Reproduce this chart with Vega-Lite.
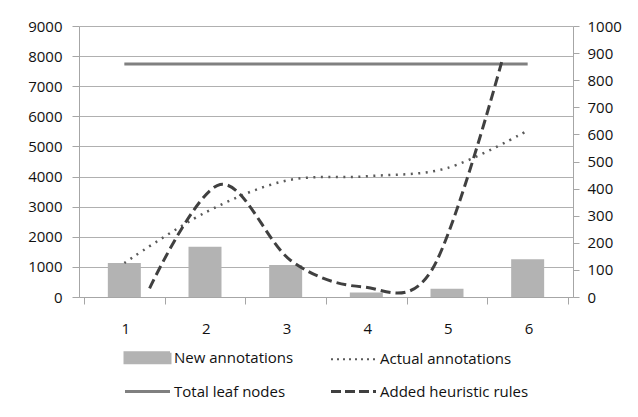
{
  "$schema": "https://vega.github.io/schema/vega-lite/v6.json",
  "width": 494,
  "height": 271,
  "autosize": {"type": "none"},
  "padding": {"left": 79, "top": 26, "right": 65, "bottom": 120},
  "background": "white",
  "config": {
    "font": "Open Sans",
    "view": {"stroke": null},
    "axis": {
      "labelFont": "Open Sans",
      "labelFontSize": 15,
      "labelColor": "#111111",
      "domainColor": "#a6a6a6",
      "tickColor": "#a6a6a6",
      "gridColor": "#b0b0b0",
      "title": null
    },
    "legend": {"labelFont": "Open Sans", "labelFontSize": 15, "labelColor": "#111111"}
  },
  "data": {
    "values": [
      {"run": 1, "series": "New annotations", "value": 1130},
      {"run": 2, "series": "New annotations", "value": 1670},
      {"run": 3, "series": "New annotations", "value": 1060},
      {"run": 4, "series": "New annotations", "value": 150},
      {"run": 5, "series": "New annotations", "value": 270},
      {"run": 6, "series": "New annotations", "value": 1250},
      {"run": 1, "series": "Actual annotations", "value": 1130},
      {"run": 2, "series": "Actual annotations", "value": 2800},
      {"run": 3, "series": "Actual annotations", "value": 3860},
      {"run": 4, "series": "Actual annotations", "value": 4010},
      {"run": 5, "series": "Actual annotations", "value": 4280},
      {"run": 6, "series": "Actual annotations", "value": 5530},
      {"run": 1, "series": "Total leaf nodes", "value": 7740},
      {"run": 2, "series": "Total leaf nodes", "value": 7740},
      {"run": 3, "series": "Total leaf nodes", "value": 7740},
      {"run": 4, "series": "Total leaf nodes", "value": 7740},
      {"run": 5, "series": "Total leaf nodes", "value": 7740},
      {"run": 6, "series": "Total leaf nodes", "value": 7740},
      {"run": 1, "series": "Added heuristic rules", "value": 32},
      {"run": 2, "series": "Added heuristic rules", "value": 415},
      {"run": 3, "series": "Added heuristic rules", "value": 135},
      {"run": 4, "series": "Added heuristic rules", "value": 38},
      {"run": 5, "series": "Added heuristic rules", "value": 100},
      {"run": 6, "series": "Added heuristic rules", "value": 877}
    ]
  },
  "encoding": {
    "color": {
      "field": "series",
      "type": "nominal",
      "scale": {
        "domain": ["New annotations", "Actual annotations", "Total leaf nodes", "Added heuristic rules"],
        "range": ["#b3b3b3", "#5a5a5a", "#808080", "#404040"]
      },
      "legend": {
        "title": null,
        "orient": "none",
        "legendX": 61,
        "legendY": 324,
        "direction": "horizontal",
        "columns": 2,
        "columnPadding": 31,
        "rowPadding": 15,
        "symbolSize": 2025,
        "symbolType": "stroke",
        "symbolStrokeWidth": 3,
        "labelOffset": 19,
        "encode": {
          "symbols": {
            "update": {
              "shape": {"signal": "datum.value === 'New annotations' ? 'M-1,-0.22H1V0.22H-1Z' : 'stroke'"},
              "fill": {"signal": "datum.value === 'New annotations' ? '#b3b3b3' : 'transparent'"},
              "stroke": {"signal": "datum.value === 'New annotations' ? 'transparent' : datum.value === 'Actual annotations' ? '#5a5a5a' : datum.value === 'Total leaf nodes' ? '#808080' : '#404040'"},
              "strokeWidth": {"signal": "datum.value === 'Actual annotations' ? 2 : 3"},
              "strokeDash": {"signal": "datum.value === 'Actual annotations' ? [2, 4] : datum.value === 'Added heuristic rules' ? [10, 4] : [1, 0]"},
              "opacity": {"value": 1}
            }
          }
        }
      }
    }
  },
  "layer": [
    {
      "encoding": {
        "x": {
          "field": "run",
          "type": "quantitative",
          "scale": {"domain": [0.5, 6.5], "nice": false, "zero": false},
          "axis": {
            "values": [0.5, 1.5, 2.5, 3.5, 4.5, 5.5, 6.5],
            "grid": false,
            "tickSize": 7,
            "labelOffset": 41.2,
            "labelPadding": 17,
            "labelExpr": "datum.value < 6 ? format(datum.value + 0.5, 'd') : ''"
          }
        },
        "y": {
          "field": "value",
          "type": "quantitative",
          "scale": {"domain": [0, 9000], "nice": false},
          "axis": {
            "values": [0, 1000, 2000, 3000, 4000, 5000, 6000, 7000, 8000, 9000],
            "tickSize": 7,
            "labelPadding": 10,
            "grid": true,
            "format": "d"
          }
        }
      },
      "layer": [
        {
          "transform": [{"filter": "datum.series === 'New annotations'"}],
          "mark": {"type": "bar", "size": 33, "opacity": 1}
        },
        {
          "transform": [{"filter": "datum.series === 'Actual annotations'"}],
          "mark": {"type": "line", "interpolate": "cardinal", "tension": 0, "strokeWidth": 2.5, "strokeDash": [2, 5.5], "strokeCap": "butt"}
        },
        {
          "transform": [{"filter": "datum.series === 'Total leaf nodes'"}],
          "mark": {"type": "line", "strokeWidth": 3}
        }
      ]
    },
    {
      "transform": [{"filter": "datum.series === 'Added heuristic rules'"}],
      "mark": {"type": "line", "interpolate": "cardinal", "tension": 0, "strokeWidth": 3, "strokeDash": [10, 5]},
      "encoding": {
        "x": {
          "field": "run",
          "type": "quantitative",
          "scale": {"domain": [0, 7], "nice": false, "zero": false},
          "axis": null
        },
        "y": {
          "field": "value",
          "type": "quantitative",
          "scale": {"domain": [0, 1000], "nice": false},
          "axis": {
            "orient": "right",
            "values": [0, 100, 200, 300, 400, 500, 600, 700, 800, 900, 1000],
            "tickSize": 6,
            "labelPadding": 8,
            "grid": false,
            "format": "d"
          }
        }
      }
    }
  ],
  "resolve": {"scale": {"y": "independent", "x": "independent"}}
}
